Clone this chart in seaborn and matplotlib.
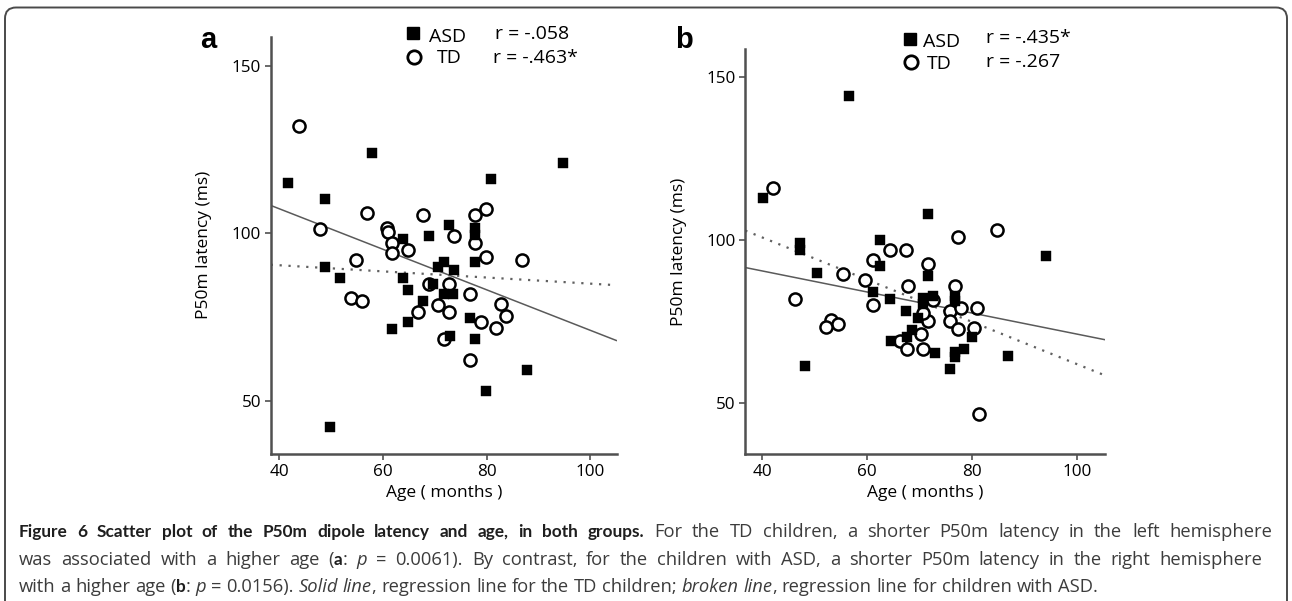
import matplotlib
matplotlib.use("Agg")
import matplotlib.pyplot as plt
from matplotlib.patches import FancyBboxPatch
from matplotlib.lines import Line2D
from matplotlib.transforms import IdentityTransform
from matplotlib.font_manager import FontProperties, findfont, get_font
import seaborn as sns
import pandas as pd

# ---------------- data ----------------
a_asd_age = [41.7, 57.8, 48.8, 80.8, 94.8, 72.8, 77.8, 77.8, 48.8, 51.8, 63.8, 68.8, 77.8, 70.7, 71.8,
             73.8, 63.8, 69.7, 64.8, 71.7, 73.6, 67.8, 64.8, 76.8, 61.7, 73.0, 77.8, 87.8, 79.8, 49.8]
a_asd_lat = [115.1, 124.1, 110.2, 116.1, 121.0, 102.4, 101.5, 99.5, 90.1, 86.8, 98.2, 99.2, 91.4, 90.1, 91.4,
             89.1, 86.8, 84.8, 83.0, 81.8, 81.8, 79.9, 73.7, 74.7, 71.5, 69.4, 68.4, 59.2, 53.0, 42.3]
a_td_age = [43.8, 56.9, 67.8, 77.8, 79.8, 47.9, 60.7, 60.9, 61.7, 64.8, 61.7, 73.8, 77.8, 79.8, 86.8,
            54.8, 68.8, 72.8, 76.8, 53.8, 55.9, 70.7, 72.8, 66.8, 82.8, 83.8, 78.9, 81.8, 71.7, 76.8]
a_td_lat = [132.0, 106.1, 105.4, 105.4, 107.3, 101.2, 101.7, 100.5, 97.2, 95.1, 94.1, 99.2, 97.2, 93.1, 92.1,
            92.1, 84.8, 85.0, 81.8, 80.8, 79.8, 78.7, 76.7, 76.7, 78.9, 75.5, 73.7, 71.8, 68.4, 62.2]

b_asd_age = [56.5, 40.1, 71.7, 47.3, 47.3, 62.5, 62.5, 94.2, 50.4, 71.7, 61.2, 64.4, 67.4, 70.7, 72.6,
             70.7, 76.8, 76.8, 69.7, 68.5, 64.5, 67.6, 80.0, 73.0, 76.8, 76.8, 78.6, 86.9, 48.2, 75.8]
b_asd_lat = [144.1, 112.9, 107.9, 99.0, 97.0, 100.0, 92.1, 95.0, 89.9, 89.1, 84.0, 82.0, 78.3, 82.3, 82.8,
             80.5, 82.8, 81.3, 76.2, 72.5, 69.2, 70.2, 70.2, 65.4, 65.7, 64.1, 66.5, 64.4, 61.4, 60.6]
b_td_age = [42.1, 77.4, 84.8, 64.4, 67.4, 61.2, 71.7, 55.5, 59.6, 67.9, 76.8, 46.3, 61.2, 72.6, 75.8,
            77.9, 80.9, 71.7, 75.8, 53.2, 54.4, 52.2, 70.7, 77.4, 80.4, 66.3, 70.4, 67.6, 70.7, 81.4]
b_td_lat = [116.0, 100.8, 103.1, 96.9, 96.9, 93.8, 92.8, 89.7, 87.8, 85.9, 85.9, 82.0, 80.1, 81.8, 78.3,
            79.1, 79.1, 75.2, 75.2, 75.5, 74.4, 73.4, 77.8, 72.7, 73.2, 69.2, 71.2, 66.5, 66.5, 46.6]

x_ticks = [40, 60, 80, 100]
y_ticks = [50, 100, 150]
panel_labels = ["a", "b"]
r_asd = ["r = -.058", "r = -.435*"]
r_td = ["r = -.463*", "r = -.267"]
x_label = "Age ( months )"
y_label = "P50m latency (ms)"

caption_lines = [
    [("Figure 6 Scatter plot of the P50m dipole latency and age, in both groups.", "bold", "normal"),
     (" For the TD children, a shorter P50m latency in the left hemisphere", "normal", "normal")],
    [("was associated with a higher age (", "normal", "normal"), ("a", "bold", "normal"),
     (": ", "normal", "normal"), ("p", "normal", "italic"),
     (" = 0.0061). By contrast, for the children with ASD, a shorter P50m latency in the right hemisphere", "normal", "normal")],
    [("with a higher age (", "normal", "normal"), ("b", "bold", "normal"), (": ", "normal", "normal"),
     ("p", "normal", "italic"), (" = 0.0156). ", "normal", "normal"), ("Solid line", "normal", "italic"),
     (", regression line for the TD children; ", "normal", "normal"), ("broken line", "normal", "italic"),
     (", regression line for children with ASD.", "normal", "normal")],
]
caption_right = [1272.0, 1262.0, None]

# ---------------- figure ----------------
sns.set_theme(style="white")
plt.rcParams["font.family"] = ["Open Sans", "DejaVu Sans"]

W, H = 1292, 601
fig = plt.figure(figsize=(W / 100, H / 100), dpi=100)
fig.patch.set_facecolor("white")

def fx(px):
    return px / W

def fy(py):
    return 1 - py / H

# frame around the whole figure
frame = FancyBboxPatch((5, -12), 1282, H - 7.5 + 12, boxstyle="round,pad=0,rounding_size=11",
                       transform=IdentityTransform(), facecolor="none", edgecolor="#4a4a4a",
                       linewidth=1.4)
fig.add_artist(frame)

panels = [
    dict(asd=(a_asd_age, a_asd_lat), td=(a_td_age, a_td_lat),
         rect=[fx(270.7), fy(454), fx(616.7) - fx(270.7), fy(36.7) - fy(454)],
         xlim=(38.34, 105.1), ylim=(34.2, 158.7)),
    dict(asd=(b_asd_age, b_asd_lat), td=(b_td_age, b_td_lat),
         rect=[fx(745.3), fy(454), fx(1105) - fx(745.3), fy(49.3) - fy(454)],
         xlim=(36.8, 105.4), ylim=(34.5, 158.4)),
]

spine_col = "#505050"
for p in panels:
    ax = fig.add_axes(p["rect"])
    ax.set_xlim(*p["xlim"])
    ax.set_ylim(*p["ylim"])
    asd = pd.DataFrame({"age": p["asd"][0], "lat": p["asd"][1]})
    td = pd.DataFrame({"age": p["td"][0], "lat": p["td"][1]})
    # regression lines: solid = TD, dotted = ASD
    sns.regplot(data=td, x="age", y="lat", ax=ax, scatter=False, ci=None, truncate=False,
                line_kws=dict(color="#5a5a5a", lw=1.1, zorder=1))
    sns.regplot(data=asd, x="age", y="lat", ax=ax, scatter=False, ci=None, truncate=False,
                line_kws=dict(color="#606060", lw=1.6, ls=(0, (1.0, 3.0)), zorder=1))
    sns.scatterplot(data=td, x="age", y="lat", ax=ax, marker="o", s=76, facecolor="white",
                    edgecolor="black", linewidth=1.8, zorder=3)
    sns.scatterplot(data=asd, x="age", y="lat", ax=ax, marker="s", s=62, color="black",
                    edgecolor="black", linewidth=0.3, zorder=4)
    ax.set_xlim(*p["xlim"])
    ax.set_ylim(*p["ylim"])
    ax.set_xticks(x_ticks)
    ax.set_yticks(y_ticks)
    ax.set_xticklabels([str(v) for v in x_ticks])
    ax.set_yticklabels([str(v) for v in y_ticks])
    for s in ["top", "right"]:
        ax.spines[s].set_visible(False)
    for s in ["left", "bottom"]:
        ax.spines[s].set_color(spine_col)
        ax.spines[s].set_linewidth(1.8)
    ax.tick_params(axis="both", which="major", direction="out", length=4, width=1.2,
                   color=spine_col, labelsize=12.3, labelcolor="black", pad=3,
                   bottom=True, left=True)
    ax.set_xlabel(x_label, fontsize=12.5, color="black", labelpad=4)
    ax.set_ylabel(y_label, fontsize=12.5, color="black", labelpad=14)
    ax.set_facecolor("none")
    ax.grid(False)

# panel letters
fig.text(fx(200.5), fy(48.3), panel_labels[0], fontsize=21, fontweight="bold",
         family=["Liberation Sans", "DejaVu Sans"], va="baseline", ha="left", color="black")
fig.text(fx(675), fy(48.3), panel_labels[1], fontsize=21, fontweight="bold",
         family=["Liberation Sans", "DejaVu Sans"], va="baseline", ha="left", color="black")

# legends
leg = [
    dict(sq=(413.3, 33.3), ci=(414.0, 56.7), asd=(429, 41.7), td=(437, 63.3),
         r1=(495, 39.3), r2=(492.7, 62.7)),
    dict(sq=(910.0, 39.3), ci=(911.0, 61.7), asd=(923, 46.7), td=(927, 69.3),
         r1=(986, 43.3), r2=(986, 66.7)),
]
for i, L in enumerate(leg):
    fig.add_artist(Line2D([fx(L["sq"][0])], [fy(L["sq"][1])], marker="s", markersize=8.6,
                          color="black", linestyle="none", transform=fig.transFigure))
    fig.add_artist(Line2D([fx(L["ci"][0])], [fy(L["ci"][1])], marker="o", markersize=9.6,
                          markerfacecolor="white", markeredgecolor="black", markeredgewidth=2.0,
                          linestyle="none", transform=fig.transFigure))
    fig.text(fx(L["asd"][0]), fy(L["asd"][1]), "ASD", fontsize=14, va="baseline", ha="left", color="black")
    fig.text(fx(L["td"][0]), fy(L["td"][1]), "TD", fontsize=14, va="baseline", ha="left", color="black")
    fig.text(fx(L["r1"][0]), fy(L["r1"][1]), r_asd[i], fontsize=14, va="baseline", ha="left", color="black")
    fig.text(fx(L["r2"][0]), fy(L["r2"][1]), r_td[i], fontsize=14, va="baseline", ha="left", color="black")

# caption with mixed styles, justified lines
cap_size = 13.2
bold_size = 12.4
baselines = [537, 565, 592]
cap_left = 19.0

def cap_family(weight):
    return ["Lato", "DejaVu Sans"] if weight == "bold" else ["Open Sans", "DejaVu Sans"]

def cap_fsize(weight):
    return bold_size if weight == "bold" else cap_size

_font_cache = {}

def advance(s, weight, style):
    key = (weight, style)
    if key not in _font_cache:
        fp = FontProperties(family=cap_family(weight), weight=weight, style=style,
                            size=cap_fsize(weight))
        _font_cache[key] = get_font(findfont(fp))
    font = _font_cache[key]
    font.set_size(cap_fsize(weight), 100)
    total = 0.0
    for c in s:
        g = font.load_char(ord(c))
        total += g.linearHoriAdvance / 65536.0
    return total

def split_words(runs):
    words, cur = [], []
    for s, weight, style in runs:
        parts = s.split(" ")
        for k, part in enumerate(parts):
            if k > 0:
                words.append(cur)
                cur = []
            if part:
                cur.append((part, weight, style))
    words.append(cur)
    return [w for w in words if w]

for runs, base, right in zip(caption_lines, baselines, caption_right):
    words = split_words(runs)
    sp_w = advance(" ", "normal", "normal")
    widths = [sum(advance(*seg) for seg in w) for w in words]
    ngaps = len(words) - 1
    natural = sum(widths) + ngaps * sp_w
    gap = sp_w
    if right is not None and ngaps > 0:
        gap = sp_w + (right - cap_left - natural) / ngaps
    x = cap_left
    for w, wd in zip(words, widths):
        xx = x
        for s, weight, style in w:
            col = "#1e1e1e" if weight == "bold" else "#3c3c3c"
            fig.text(xx, H - base, s, fontsize=cap_fsize(weight), fontweight=weight,
                     fontstyle=style, family=cap_family(weight), color=col, va="baseline",
                     ha="left", transform=IdentityTransform())
            xx += advance(s, weight, style)
        x += wd + gap

fig.savefig("out.png", dpi=100, facecolor="white")
